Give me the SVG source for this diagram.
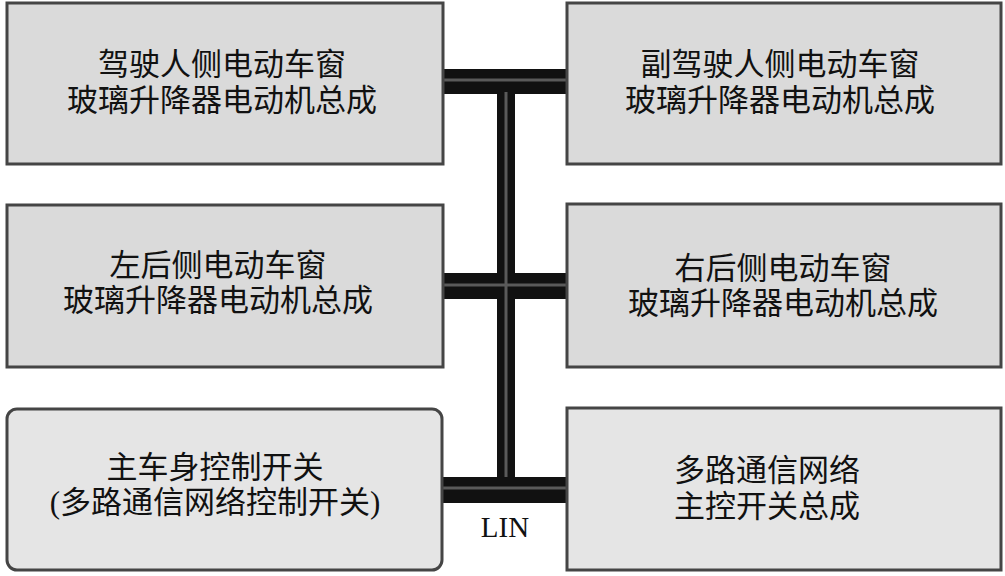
<svg xmlns="http://www.w3.org/2000/svg" width="1005" height="576" viewBox="0 0 1005 576">
<style>
.box{stroke:#454545;stroke-width:3;}
.a{fill:#dadada;}
.b{fill:#e5e5e5;}
.t{font-family:"Liberation Serif","Noto Sans CJK SC",serif;font-size:31px;fill:#111;text-anchor:middle;}
.bus{fill:#111;}
.core{stroke:#5a5a5a;stroke-width:3;fill:none;}
</style>
<rect width="1005" height="576" fill="#ffffff"/>
<g id="connectors">
<rect class="bus" x="443" y="69" width="124" height="25"/>
<rect class="bus" x="443" y="273" width="124" height="26"/>
<rect class="bus" x="443" y="477" width="124" height="26"/>
<rect class="bus" x="497" y="90" width="18" height="390"/>
<path class="core" d="M443 80H567M443 285H567M443 488H567M506 92V477"/>
<text x="505" y="537" style="font-family:'Liberation Serif',serif;font-size:29px;fill:#111;text-anchor:middle">LIN</text>
</g>
<g id="n1">
<rect class="box a" x="7" y="3" width="436" height="161"/>
<text class="t" x="222" y="75">驾驶人侧电动车窗</text>
<text class="t" x="222" y="111">玻璃升降器电动机总成</text>
</g>
<g id="n2">
<rect class="box a" x="567" y="3" width="434" height="161"/>
<text class="t" x="780" y="75">副驾驶人侧电动车窗</text>
<text class="t" x="780" y="111">玻璃升降器电动机总成</text>
</g>
<g id="n3">
<rect class="box a" x="7" y="205" width="436" height="162"/>
<text class="t" x="218" y="276">左后侧电动车窗</text>
<text class="t" x="218" y="311">玻璃升降器电动机总成</text>
</g>
<g id="n4">
<rect class="box a" x="567" y="204" width="434" height="163"/>
<text class="t" x="783" y="279">右后侧电动车窗</text>
<text class="t" x="783" y="314">玻璃升降器电动机总成</text>
</g>
<g id="n5">
<rect class="box b" x="7" y="409" width="435" height="161" rx="10"/>
<text class="t" x="215" y="478">主车身控制开关</text>
<text class="t" x="215" y="513">(多路通信网络控制开关)</text>
</g>
<g id="n6">
<rect class="box b" x="567" y="408" width="434" height="162"/>
<text class="t" x="767" y="481">多路通信网络</text>
<text class="t" x="767" y="517">主控开关总成</text>
</g>
</svg>
